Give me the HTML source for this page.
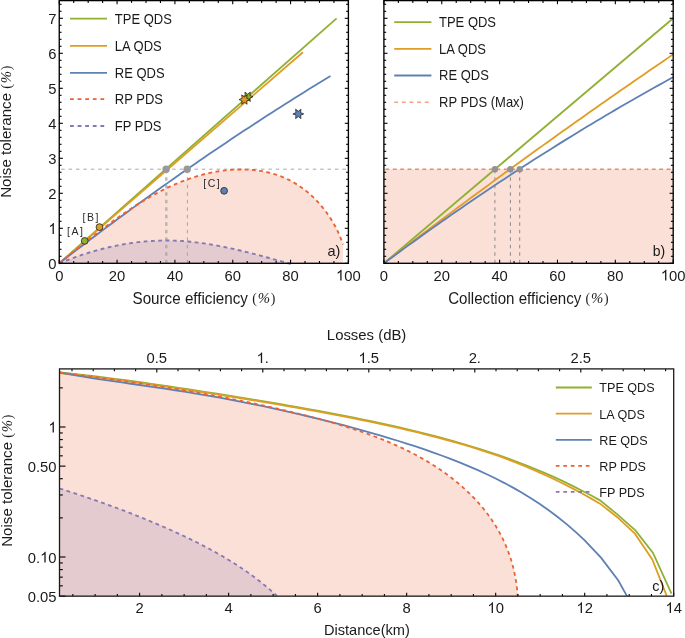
<!DOCTYPE html>
<html><head><meta charset="utf-8"><style>
html,body{margin:0;padding:0;background:#fff;}
body{width:685px;height:638px;overflow:hidden;}
svg{display:block;will-change:transform;}
</style></head><body>
<svg width="685" height="638" viewBox="0 0 685 638" font-family='"Liberation Sans", sans-serif'>
<rect width="685" height="638" fill="#fff"/>
<path d="M59.69 262.84 L61.28 261.57 L62.88 260.3 L64.48 259.02 L66.09 257.73 L67.7 256.44 L69.32 255.14 L70.95 253.83 L72.58 252.52 L74.21 251.21 L75.86 249.89 L77.5 248.57 L79.16 247.24 L80.82 245.92 L82.49 244.59 L84.16 243.26 L85.84 241.93 L87.52 240.59 L89.21 239.26 L90.91 237.92 L92.61 236.59 L94.32 235.26 L96.03 233.93 L97.75 232.6 L99.48 231.27 L101.21 229.95 L102.95 228.63 L104.69 227.31 L106.44 225.99 L108.2 224.68 L109.96 223.38 L111.73 222.08 L113.51 220.78 L115.29 219.5 L117.07 218.21 L118.87 216.94 L120.67 215.67 L122.47 214.41 L124.28 213.16 L126.1 211.92 L127.93 210.68 L129.76 209.46 L131.59 208.24 L133.44 207.04 L135.29 205.85 L137.14 204.66 L139 203.49 L140.87 202.34 L142.74 201.19 L144.63 200.06 L146.51 198.94 L148.4 197.83 L150.3 196.74 L152.21 195.67 L154.12 194.61 L156.04 193.56 L157.97 192.53 L159.9 191.52 L161.83 190.52 L163.78 189.54 L165.73 188.58 L167.68 187.64 L169.65 186.71 L171.62 185.81 L173.59 184.92 L175.58 184.06 L177.56 183.21 L179.56 182.39 L181.56 181.58 L183.57 180.8 L185.58 180.04 L187.61 179.3 L189.63 178.59 L191.67 177.9 L193.71 177.23 L195.76 176.59 L197.81 175.97 L199.87 175.38 L201.94 174.81 L204.01 174.27 L206.09 173.75 L208.18 173.27 L210.27 172.81 L212.37 172.37 L214.48 171.97 L216.59 171.59 L218.71 171.24 L220.84 170.93 L222.97 170.64 L225.11 170.38 L227.26 170.15 L229.42 169.96 L231.58 169.79 L233.74 169.66 L235.91 169.56 L238.08 169.5 L240.25 169.47 L242.43 169.47 L244.6 169.51 L246.78 169.59 L248.95 169.7 L251.12 169.85 L253.28 170.04 L255.44 170.27 L257.59 170.53 L259.74 170.84 L261.88 171.18 L264.01 171.57 L266.13 172 L268.23 172.47 L270.33 172.99 L272.41 173.55 L274.48 174.15 L276.53 174.79 L278.57 175.49 L280.59 176.23 L282.59 177.01 L284.58 177.85 L286.54 178.73 L288.48 179.66 L290.4 180.63 L292.29 181.66 L294.17 182.72 L296.02 183.84 L297.85 184.99 L299.65 186.19 L301.43 187.43 L303.19 188.7 L304.91 190.02 L306.62 191.38 L308.29 192.77 L309.94 194.2 L311.56 195.66 L313.15 197.16 L314.72 198.69 L316.25 200.25 L317.76 201.84 L319.23 203.46 L320.67 205.11 L322.09 206.79 L323.47 208.49 L324.82 210.22 L326.13 211.98 L327.42 213.75 L328.67 215.55 L329.88 217.38 L331.06 219.22 L332.21 221.08 L333.32 222.96 L334.39 224.86 L335.43 226.77 L336.43 228.7 L337.39 230.64 L338.31 232.6 L339.2 234.57 L340.04 236.55 L340.85 238.54 L341.61 240.53 L342.34 242.54 L343.02 244.55 L343.02 263.3 L59.25 263.3 Z" fill="#FBE0D7"/>
<path d="M59.25 263.55 L61.09 262.76 L62.94 261.99 L64.8 261.23 L66.66 260.48 L68.53 259.75 L70.4 259.02 L72.27 258.31 L74.15 257.61 L76.04 256.93 L77.93 256.25 L79.83 255.59 L81.73 254.95 L83.63 254.31 L85.54 253.69 L87.45 253.09 L89.36 252.49 L91.28 251.91 L93.21 251.34 L95.14 250.79 L97.07 250.25 L99 249.72 L100.94 249.21 L102.88 248.71 L104.82 248.22 L106.77 247.75 L108.72 247.29 L110.67 246.85 L112.63 246.42 L114.59 246.01 L116.55 245.61 L118.51 245.22 L120.48 244.85 L122.45 244.49 L124.42 244.15 L126.39 243.82 L128.36 243.51 L130.34 243.21 L132.32 242.93 L134.3 242.67 L136.28 242.41 L138.26 242.18 L140.24 241.96 L142.23 241.75 L144.21 241.56 L146.2 241.39 L148.19 241.23 L150.17 241.09 L152.16 240.96 L154.15 240.85 L156.14 240.76 L158.13 240.68 L160.12 240.62 L162.11 240.57 L164.1 240.54 L166.09 240.53 L168.08 240.53 L170.07 240.55 L172.06 240.59 L174.05 240.65 L176.04 240.72 L178.03 240.81 L180.01 240.91 L182 241.03 L183.99 241.17 L185.97 241.33 L187.95 241.5 L189.94 241.68 L191.92 241.88 L193.9 242.1 L195.88 242.32 L197.86 242.57 L199.84 242.82 L201.81 243.09 L203.79 243.38 L205.76 243.67 L207.74 243.98 L209.71 244.3 L211.68 244.63 L213.65 244.97 L215.62 245.33 L217.59 245.69 L219.56 246.06 L221.52 246.45 L223.49 246.84 L225.45 247.24 L227.41 247.65 L229.37 248.08 L231.33 248.5 L233.29 248.94 L235.24 249.38 L237.2 249.84 L239.15 250.29 L241.1 250.76 L243.05 251.23 L245 251.71 L246.95 252.19 L248.89 252.68 L250.83 253.17 L252.78 253.67 L254.72 254.17 L256.66 254.67 L258.59 255.18 L260.53 255.69 L262.46 256.21 L264.39 256.72 L266.32 257.24 L268.25 257.76 L270.18 258.29 L272.1 258.81 L274.03 259.34 L275.95 259.86 L277.87 260.39 L279.78 260.91 L281.7 261.44 L283.61 261.96 L285.52 262.48 L287.43 263 L289.34 263.52 L291.24 264.04 L59.25 263.3 Z" fill="#E3CBCF"/>
<line x1="59.25" y1="169.2" x2="348.4" y2="169.2" stroke="#a8a8a8" stroke-width="1" stroke-dasharray="3.5 3.9" stroke-dashoffset="-1.95"/>
<line x1="165.8" y1="263.3" x2="165.8" y2="169.2" stroke="#a4a4a4" stroke-width="1" stroke-dasharray="3.5 4"/>
<line x1="166.9" y1="263.3" x2="166.9" y2="169.2" stroke="#a4a4a4" stroke-width="1" stroke-dasharray="3.5 4"/>
<line x1="187.4" y1="263.3" x2="187.4" y2="169.2" stroke="#a4a4a4" stroke-width="1" stroke-dasharray="3.5 4"/>
<path d="M59.25 263.3 L336.6 18.3" fill="none" stroke="#8FB032" stroke-width="1.8"/>
<path d="M59.25 263.3 L302.9 52.3" fill="none" stroke="#E19C24" stroke-width="1.8"/>
<path d="M59.25 263.3 L63.77 259.8 L68.29 256.32 L72.81 252.85 L77.33 249.39 L81.85 245.94 L86.37 242.51 L90.89 239.09 L95.41 235.68 L99.93 232.28 L104.45 228.9 L108.97 225.53 L113.49 222.17 L118.01 218.83 L122.54 215.5 L127.06 212.18 L131.58 208.87 L136.1 205.58 L140.62 202.3 L145.14 199.03 L149.66 195.78 L154.18 192.53 L158.7 189.3 L163.22 186.09 L167.74 182.88 L172.26 179.69 L176.78 176.51 L181.3 173.34 L185.82 170.19 L190.34 167.05 L194.86 163.92 L199.38 160.81 L203.9 157.7 L208.42 154.61 L212.94 151.54 L217.46 148.47 L221.98 145.42 L226.5 142.38 L231.02 139.36 L235.54 136.34 L240.07 133.34 L244.59 130.35 L249.11 127.38 L253.63 124.42 L258.15 121.47 L262.67 118.53 L267.19 115.61 L271.71 112.69 L276.23 109.79 L280.75 106.91 L285.27 104.04 L289.79 101.17 L294.31 98.33 L298.83 95.49 L303.35 92.67 L307.87 89.86 L312.39 87.06 L316.91 84.28 L321.43 81.51 L325.95 78.75 L330.47 76" fill="none" stroke="#5E81B5" stroke-width="1.8"/>
<path d="M59.69 262.84 L61.28 261.57 L62.88 260.3 L64.48 259.02 L66.09 257.73 L67.7 256.44 L69.32 255.14 L70.95 253.83 L72.58 252.52 L74.21 251.21 L75.86 249.89 L77.5 248.57 L79.16 247.24 L80.82 245.92 L82.49 244.59 L84.16 243.26 L85.84 241.93 L87.52 240.59 L89.21 239.26 L90.91 237.92 L92.61 236.59 L94.32 235.26 L96.03 233.93 L97.75 232.6 L99.48 231.27 L101.21 229.95 L102.95 228.63 L104.69 227.31 L106.44 225.99 L108.2 224.68 L109.96 223.38 L111.73 222.08 L113.51 220.78 L115.29 219.5 L117.07 218.21 L118.87 216.94 L120.67 215.67 L122.47 214.41 L124.28 213.16 L126.1 211.92 L127.93 210.68 L129.76 209.46 L131.59 208.24 L133.44 207.04 L135.29 205.85 L137.14 204.66 L139 203.49 L140.87 202.34 L142.74 201.19 L144.63 200.06 L146.51 198.94 L148.4 197.83 L150.3 196.74 L152.21 195.67 L154.12 194.61 L156.04 193.56 L157.97 192.53 L159.9 191.52 L161.83 190.52 L163.78 189.54 L165.73 188.58 L167.68 187.64 L169.65 186.71 L171.62 185.81 L173.59 184.92 L175.58 184.06 L177.56 183.21 L179.56 182.39 L181.56 181.58 L183.57 180.8 L185.58 180.04 L187.61 179.3 L189.63 178.59 L191.67 177.9 L193.71 177.23 L195.76 176.59 L197.81 175.97 L199.87 175.38 L201.94 174.81 L204.01 174.27 L206.09 173.75 L208.18 173.27 L210.27 172.81 L212.37 172.37 L214.48 171.97 L216.59 171.59 L218.71 171.24 L220.84 170.93 L222.97 170.64 L225.11 170.38 L227.26 170.15 L229.42 169.96 L231.58 169.79 L233.74 169.66 L235.91 169.56 L238.08 169.5 L240.25 169.47 L242.43 169.47 L244.6 169.51 L246.78 169.59 L248.95 169.7 L251.12 169.85 L253.28 170.04 L255.44 170.27 L257.59 170.53 L259.74 170.84 L261.88 171.18 L264.01 171.57 L266.13 172 L268.23 172.47 L270.33 172.99 L272.41 173.55 L274.48 174.15 L276.53 174.79 L278.57 175.49 L280.59 176.23 L282.59 177.01 L284.58 177.85 L286.54 178.73 L288.48 179.66 L290.4 180.63 L292.29 181.66 L294.17 182.72 L296.02 183.84 L297.85 184.99 L299.65 186.19 L301.43 187.43 L303.19 188.7 L304.91 190.02 L306.62 191.38 L308.29 192.77 L309.94 194.2 L311.56 195.66 L313.15 197.16 L314.72 198.69 L316.25 200.25 L317.76 201.84 L319.23 203.46 L320.67 205.11 L322.09 206.79 L323.47 208.49 L324.82 210.22 L326.13 211.98 L327.42 213.75 L328.67 215.55 L329.88 217.38 L331.06 219.22 L332.21 221.08 L333.32 222.96 L334.39 224.86 L335.43 226.77 L336.43 228.7 L337.39 230.64 L338.31 232.6 L339.2 234.57 L340.04 236.55 L340.85 238.54 L341.61 240.53 L342.34 242.54 L343.02 244.55" fill="none" stroke="#EB6235" stroke-width="1.9" stroke-dasharray="3.8 3.5"/>
<path d="M59.25 263.55 L61.09 262.76 L62.94 261.99 L64.8 261.23 L66.66 260.48 L68.53 259.75 L70.4 259.02 L72.27 258.31 L74.15 257.61 L76.04 256.93 L77.93 256.25 L79.83 255.59 L81.73 254.95 L83.63 254.31 L85.54 253.69 L87.45 253.09 L89.36 252.49 L91.28 251.91 L93.21 251.34 L95.14 250.79 L97.07 250.25 L99 249.72 L100.94 249.21 L102.88 248.71 L104.82 248.22 L106.77 247.75 L108.72 247.29 L110.67 246.85 L112.63 246.42 L114.59 246.01 L116.55 245.61 L118.51 245.22 L120.48 244.85 L122.45 244.49 L124.42 244.15 L126.39 243.82 L128.36 243.51 L130.34 243.21 L132.32 242.93 L134.3 242.67 L136.28 242.41 L138.26 242.18 L140.24 241.96 L142.23 241.75 L144.21 241.56 L146.2 241.39 L148.19 241.23 L150.17 241.09 L152.16 240.96 L154.15 240.85 L156.14 240.76 L158.13 240.68 L160.12 240.62 L162.11 240.57 L164.1 240.54 L166.09 240.53 L168.08 240.53 L170.07 240.55 L172.06 240.59 L174.05 240.65 L176.04 240.72 L178.03 240.81 L180.01 240.91 L182 241.03 L183.99 241.17 L185.97 241.33 L187.95 241.5 L189.94 241.68 L191.92 241.88 L193.9 242.1 L195.88 242.32 L197.86 242.57 L199.84 242.82 L201.81 243.09 L203.79 243.38 L205.76 243.67 L207.74 243.98 L209.71 244.3 L211.68 244.63 L213.65 244.97 L215.62 245.33 L217.59 245.69 L219.56 246.06 L221.52 246.45 L223.49 246.84 L225.45 247.24 L227.41 247.65 L229.37 248.08 L231.33 248.5 L233.29 248.94 L235.24 249.38 L237.2 249.84 L239.15 250.29 L241.1 250.76 L243.05 251.23 L245 251.71 L246.95 252.19 L248.89 252.68 L250.83 253.17 L252.78 253.67 L254.72 254.17 L256.66 254.67 L258.59 255.18 L260.53 255.69 L262.46 256.21 L264.39 256.72 L266.32 257.24 L268.25 257.76 L270.18 258.29 L272.1 258.81 L274.03 259.34 L275.95 259.86 L277.87 260.39 L279.78 260.91 L281.7 261.44 L283.61 261.96 L285.52 262.48 L287.43 263 L289.34 263.52 L291.24 264.04" fill="none" stroke="#8778B3" stroke-width="1.9" stroke-dasharray="3.8 3.5"/>
<circle cx="166.1" cy="169.2" r="3.7" fill="#999"/>
<circle cx="187.2" cy="169.2" r="3.7" fill="#999"/>
<circle cx="84.7" cy="240.9" r="3.4" fill="#8FB032" stroke="#222" stroke-width="0.8"/>
<circle cx="99.5" cy="227.1" r="3.4" fill="#E19C24" stroke="#222" stroke-width="0.8"/>
<circle cx="224.1" cy="190.8" r="3.4" fill="#5E81B5" stroke="#222" stroke-width="0.8"/>
<path d="M253 96.8 L249.89 95.47 L250.3 92.12 L247.6 94.15 L244.9 92.12 L245.31 95.47 L242.2 96.8 L245.31 98.12 L244.9 101.48 L247.6 99.45 L250.3 101.48 L249.89 98.12 Z" fill="#8FB032" stroke="#111" stroke-width="0.7" stroke-linejoin="miter"/>
<path d="M249.8 99.6 L246.69 98.27 L247.1 94.92 L244.4 96.95 L241.7 94.92 L242.11 98.27 L239 99.6 L242.11 100.92 L241.7 104.28 L244.4 102.25 L247.1 104.28 L246.69 100.92 Z" fill="#E19C24" stroke="#111" stroke-width="0.7" stroke-linejoin="miter"/>
<path d="M303.7 113.9 L300.59 112.58 L301 109.22 L298.3 111.25 L295.6 109.22 L296.01 112.58 L292.9 113.9 L296.01 115.23 L295.6 118.58 L298.3 116.55 L301 118.58 L300.59 115.23 Z" fill="#5E81B5" stroke="#111" stroke-width="0.7" stroke-linejoin="miter"/>
<text x="66.95" y="234.7" font-size="10.5" text-anchor="start" fill="#2a2a2a" letter-spacing="1.55">[A]</text>
<text x="82.55" y="220.9" font-size="10.5" text-anchor="start" fill="#2a2a2a" letter-spacing="1.55">[B]</text>
<text x="203.25" y="186.5" font-size="10.5" text-anchor="start" fill="#2a2a2a" letter-spacing="1.55">[C]</text>
<line x1="70" y1="18.7" x2="107" y2="18.7" stroke="#8FB032" stroke-width="1.8"/>
<text transform="translate(114.8 23.7) scale(1 1.1)" font-size="13" text-anchor="start" fill="#1a1a1a">TPE QDS</text>
<line x1="70" y1="45.85" x2="107" y2="45.85" stroke="#E19C24" stroke-width="1.8"/>
<text transform="translate(114.8 50.85) scale(1 1.1)" font-size="13" text-anchor="start" fill="#1a1a1a">LA QDS</text>
<line x1="70" y1="72.9" x2="107" y2="72.9" stroke="#5E81B5" stroke-width="1.8"/>
<text transform="translate(114.8 77.9) scale(1 1.1)" font-size="13" text-anchor="start" fill="#1a1a1a">RE QDS</text>
<line x1="70" y1="99.2" x2="104.2" y2="99.2" stroke="#EB6235" stroke-width="1.8" stroke-dasharray="3.8 3.8"/>
<text transform="translate(114.8 104.2) scale(1 1.1)" font-size="13" text-anchor="start" fill="#1a1a1a">RP PDS</text>
<line x1="70" y1="126" x2="104.2" y2="126" stroke="#8778B3" stroke-width="1.8" stroke-dasharray="3.8 3.8"/>
<text transform="translate(114.8 131) scale(1 1.1)" font-size="13" text-anchor="start" fill="#1a1a1a">FP PDS</text>
<text x="333.9" y="256" font-size="14.5" text-anchor="middle" fill="#1a1a1a">a)</text>
<line x1="59.25" y1="263.3" x2="59.25" y2="259.7" stroke="#000" stroke-width="1.1"/>
<line x1="59.25" y1="0.6" x2="59.25" y2="4.2" stroke="#000" stroke-width="1.1"/>
<line x1="73.71" y1="263.3" x2="73.71" y2="261" stroke="#000" stroke-width="1.1"/>
<line x1="73.71" y1="0.6" x2="73.71" y2="2.9" stroke="#000" stroke-width="1.1"/>
<line x1="88.17" y1="263.3" x2="88.17" y2="261" stroke="#000" stroke-width="1.1"/>
<line x1="88.17" y1="0.6" x2="88.17" y2="2.9" stroke="#000" stroke-width="1.1"/>
<line x1="102.62" y1="263.3" x2="102.62" y2="261" stroke="#000" stroke-width="1.1"/>
<line x1="102.62" y1="0.6" x2="102.62" y2="2.9" stroke="#000" stroke-width="1.1"/>
<line x1="117.08" y1="263.3" x2="117.08" y2="259.7" stroke="#000" stroke-width="1.1"/>
<line x1="117.08" y1="0.6" x2="117.08" y2="4.2" stroke="#000" stroke-width="1.1"/>
<line x1="131.54" y1="263.3" x2="131.54" y2="261" stroke="#000" stroke-width="1.1"/>
<line x1="131.54" y1="0.6" x2="131.54" y2="2.9" stroke="#000" stroke-width="1.1"/>
<line x1="146" y1="263.3" x2="146" y2="261" stroke="#000" stroke-width="1.1"/>
<line x1="146" y1="0.6" x2="146" y2="2.9" stroke="#000" stroke-width="1.1"/>
<line x1="160.45" y1="263.3" x2="160.45" y2="261" stroke="#000" stroke-width="1.1"/>
<line x1="160.45" y1="0.6" x2="160.45" y2="2.9" stroke="#000" stroke-width="1.1"/>
<line x1="174.91" y1="263.3" x2="174.91" y2="259.7" stroke="#000" stroke-width="1.1"/>
<line x1="174.91" y1="0.6" x2="174.91" y2="4.2" stroke="#000" stroke-width="1.1"/>
<line x1="189.37" y1="263.3" x2="189.37" y2="261" stroke="#000" stroke-width="1.1"/>
<line x1="189.37" y1="0.6" x2="189.37" y2="2.9" stroke="#000" stroke-width="1.1"/>
<line x1="203.83" y1="263.3" x2="203.83" y2="261" stroke="#000" stroke-width="1.1"/>
<line x1="203.83" y1="0.6" x2="203.83" y2="2.9" stroke="#000" stroke-width="1.1"/>
<line x1="218.28" y1="263.3" x2="218.28" y2="261" stroke="#000" stroke-width="1.1"/>
<line x1="218.28" y1="0.6" x2="218.28" y2="2.9" stroke="#000" stroke-width="1.1"/>
<line x1="232.74" y1="263.3" x2="232.74" y2="259.7" stroke="#000" stroke-width="1.1"/>
<line x1="232.74" y1="0.6" x2="232.74" y2="4.2" stroke="#000" stroke-width="1.1"/>
<line x1="247.2" y1="263.3" x2="247.2" y2="261" stroke="#000" stroke-width="1.1"/>
<line x1="247.2" y1="0.6" x2="247.2" y2="2.9" stroke="#000" stroke-width="1.1"/>
<line x1="261.65" y1="263.3" x2="261.65" y2="261" stroke="#000" stroke-width="1.1"/>
<line x1="261.65" y1="0.6" x2="261.65" y2="2.9" stroke="#000" stroke-width="1.1"/>
<line x1="276.11" y1="263.3" x2="276.11" y2="261" stroke="#000" stroke-width="1.1"/>
<line x1="276.11" y1="0.6" x2="276.11" y2="2.9" stroke="#000" stroke-width="1.1"/>
<line x1="290.57" y1="263.3" x2="290.57" y2="259.7" stroke="#000" stroke-width="1.1"/>
<line x1="290.57" y1="0.6" x2="290.57" y2="4.2" stroke="#000" stroke-width="1.1"/>
<line x1="305.03" y1="263.3" x2="305.03" y2="261" stroke="#000" stroke-width="1.1"/>
<line x1="305.03" y1="0.6" x2="305.03" y2="2.9" stroke="#000" stroke-width="1.1"/>
<line x1="319.49" y1="263.3" x2="319.49" y2="261" stroke="#000" stroke-width="1.1"/>
<line x1="319.49" y1="0.6" x2="319.49" y2="2.9" stroke="#000" stroke-width="1.1"/>
<line x1="333.94" y1="263.3" x2="333.94" y2="261" stroke="#000" stroke-width="1.1"/>
<line x1="333.94" y1="0.6" x2="333.94" y2="2.9" stroke="#000" stroke-width="1.1"/>
<line x1="348.4" y1="263.3" x2="348.4" y2="259.7" stroke="#000" stroke-width="1.1"/>
<line x1="348.4" y1="0.6" x2="348.4" y2="4.2" stroke="#000" stroke-width="1.1"/>
<line x1="59.25" y1="263.3" x2="62.85" y2="263.3" stroke="#000" stroke-width="1.1"/>
<line x1="348.4" y1="263.3" x2="344.8" y2="263.3" stroke="#000" stroke-width="1.1"/>
<line x1="59.25" y1="256.3" x2="61.55" y2="256.3" stroke="#000" stroke-width="1.1"/>
<line x1="348.4" y1="256.3" x2="346.1" y2="256.3" stroke="#000" stroke-width="1.1"/>
<line x1="59.25" y1="249.3" x2="61.55" y2="249.3" stroke="#000" stroke-width="1.1"/>
<line x1="348.4" y1="249.3" x2="346.1" y2="249.3" stroke="#000" stroke-width="1.1"/>
<line x1="59.25" y1="242.3" x2="61.55" y2="242.3" stroke="#000" stroke-width="1.1"/>
<line x1="348.4" y1="242.3" x2="346.1" y2="242.3" stroke="#000" stroke-width="1.1"/>
<line x1="59.25" y1="235.3" x2="61.55" y2="235.3" stroke="#000" stroke-width="1.1"/>
<line x1="348.4" y1="235.3" x2="346.1" y2="235.3" stroke="#000" stroke-width="1.1"/>
<line x1="59.25" y1="228.3" x2="62.85" y2="228.3" stroke="#000" stroke-width="1.1"/>
<line x1="348.4" y1="228.3" x2="344.8" y2="228.3" stroke="#000" stroke-width="1.1"/>
<line x1="59.25" y1="221.3" x2="61.55" y2="221.3" stroke="#000" stroke-width="1.1"/>
<line x1="348.4" y1="221.3" x2="346.1" y2="221.3" stroke="#000" stroke-width="1.1"/>
<line x1="59.25" y1="214.3" x2="61.55" y2="214.3" stroke="#000" stroke-width="1.1"/>
<line x1="348.4" y1="214.3" x2="346.1" y2="214.3" stroke="#000" stroke-width="1.1"/>
<line x1="59.25" y1="207.3" x2="61.55" y2="207.3" stroke="#000" stroke-width="1.1"/>
<line x1="348.4" y1="207.3" x2="346.1" y2="207.3" stroke="#000" stroke-width="1.1"/>
<line x1="59.25" y1="200.3" x2="61.55" y2="200.3" stroke="#000" stroke-width="1.1"/>
<line x1="348.4" y1="200.3" x2="346.1" y2="200.3" stroke="#000" stroke-width="1.1"/>
<line x1="59.25" y1="193.3" x2="62.85" y2="193.3" stroke="#000" stroke-width="1.1"/>
<line x1="348.4" y1="193.3" x2="344.8" y2="193.3" stroke="#000" stroke-width="1.1"/>
<line x1="59.25" y1="186.3" x2="61.55" y2="186.3" stroke="#000" stroke-width="1.1"/>
<line x1="348.4" y1="186.3" x2="346.1" y2="186.3" stroke="#000" stroke-width="1.1"/>
<line x1="59.25" y1="179.3" x2="61.55" y2="179.3" stroke="#000" stroke-width="1.1"/>
<line x1="348.4" y1="179.3" x2="346.1" y2="179.3" stroke="#000" stroke-width="1.1"/>
<line x1="59.25" y1="172.3" x2="61.55" y2="172.3" stroke="#000" stroke-width="1.1"/>
<line x1="348.4" y1="172.3" x2="346.1" y2="172.3" stroke="#000" stroke-width="1.1"/>
<line x1="59.25" y1="165.3" x2="61.55" y2="165.3" stroke="#000" stroke-width="1.1"/>
<line x1="348.4" y1="165.3" x2="346.1" y2="165.3" stroke="#000" stroke-width="1.1"/>
<line x1="59.25" y1="158.3" x2="62.85" y2="158.3" stroke="#000" stroke-width="1.1"/>
<line x1="348.4" y1="158.3" x2="344.8" y2="158.3" stroke="#000" stroke-width="1.1"/>
<line x1="59.25" y1="151.3" x2="61.55" y2="151.3" stroke="#000" stroke-width="1.1"/>
<line x1="348.4" y1="151.3" x2="346.1" y2="151.3" stroke="#000" stroke-width="1.1"/>
<line x1="59.25" y1="144.3" x2="61.55" y2="144.3" stroke="#000" stroke-width="1.1"/>
<line x1="348.4" y1="144.3" x2="346.1" y2="144.3" stroke="#000" stroke-width="1.1"/>
<line x1="59.25" y1="137.3" x2="61.55" y2="137.3" stroke="#000" stroke-width="1.1"/>
<line x1="348.4" y1="137.3" x2="346.1" y2="137.3" stroke="#000" stroke-width="1.1"/>
<line x1="59.25" y1="130.3" x2="61.55" y2="130.3" stroke="#000" stroke-width="1.1"/>
<line x1="348.4" y1="130.3" x2="346.1" y2="130.3" stroke="#000" stroke-width="1.1"/>
<line x1="59.25" y1="123.3" x2="62.85" y2="123.3" stroke="#000" stroke-width="1.1"/>
<line x1="348.4" y1="123.3" x2="344.8" y2="123.3" stroke="#000" stroke-width="1.1"/>
<line x1="59.25" y1="116.3" x2="61.55" y2="116.3" stroke="#000" stroke-width="1.1"/>
<line x1="348.4" y1="116.3" x2="346.1" y2="116.3" stroke="#000" stroke-width="1.1"/>
<line x1="59.25" y1="109.3" x2="61.55" y2="109.3" stroke="#000" stroke-width="1.1"/>
<line x1="348.4" y1="109.3" x2="346.1" y2="109.3" stroke="#000" stroke-width="1.1"/>
<line x1="59.25" y1="102.3" x2="61.55" y2="102.3" stroke="#000" stroke-width="1.1"/>
<line x1="348.4" y1="102.3" x2="346.1" y2="102.3" stroke="#000" stroke-width="1.1"/>
<line x1="59.25" y1="95.3" x2="61.55" y2="95.3" stroke="#000" stroke-width="1.1"/>
<line x1="348.4" y1="95.3" x2="346.1" y2="95.3" stroke="#000" stroke-width="1.1"/>
<line x1="59.25" y1="88.3" x2="62.85" y2="88.3" stroke="#000" stroke-width="1.1"/>
<line x1="348.4" y1="88.3" x2="344.8" y2="88.3" stroke="#000" stroke-width="1.1"/>
<line x1="59.25" y1="81.3" x2="61.55" y2="81.3" stroke="#000" stroke-width="1.1"/>
<line x1="348.4" y1="81.3" x2="346.1" y2="81.3" stroke="#000" stroke-width="1.1"/>
<line x1="59.25" y1="74.3" x2="61.55" y2="74.3" stroke="#000" stroke-width="1.1"/>
<line x1="348.4" y1="74.3" x2="346.1" y2="74.3" stroke="#000" stroke-width="1.1"/>
<line x1="59.25" y1="67.3" x2="61.55" y2="67.3" stroke="#000" stroke-width="1.1"/>
<line x1="348.4" y1="67.3" x2="346.1" y2="67.3" stroke="#000" stroke-width="1.1"/>
<line x1="59.25" y1="60.3" x2="61.55" y2="60.3" stroke="#000" stroke-width="1.1"/>
<line x1="348.4" y1="60.3" x2="346.1" y2="60.3" stroke="#000" stroke-width="1.1"/>
<line x1="59.25" y1="53.3" x2="62.85" y2="53.3" stroke="#000" stroke-width="1.1"/>
<line x1="348.4" y1="53.3" x2="344.8" y2="53.3" stroke="#000" stroke-width="1.1"/>
<line x1="59.25" y1="46.3" x2="61.55" y2="46.3" stroke="#000" stroke-width="1.1"/>
<line x1="348.4" y1="46.3" x2="346.1" y2="46.3" stroke="#000" stroke-width="1.1"/>
<line x1="59.25" y1="39.3" x2="61.55" y2="39.3" stroke="#000" stroke-width="1.1"/>
<line x1="348.4" y1="39.3" x2="346.1" y2="39.3" stroke="#000" stroke-width="1.1"/>
<line x1="59.25" y1="32.3" x2="61.55" y2="32.3" stroke="#000" stroke-width="1.1"/>
<line x1="348.4" y1="32.3" x2="346.1" y2="32.3" stroke="#000" stroke-width="1.1"/>
<line x1="59.25" y1="25.3" x2="61.55" y2="25.3" stroke="#000" stroke-width="1.1"/>
<line x1="348.4" y1="25.3" x2="346.1" y2="25.3" stroke="#000" stroke-width="1.1"/>
<line x1="59.25" y1="18.3" x2="62.85" y2="18.3" stroke="#000" stroke-width="1.1"/>
<line x1="348.4" y1="18.3" x2="344.8" y2="18.3" stroke="#000" stroke-width="1.1"/>
<line x1="59.25" y1="11.3" x2="61.55" y2="11.3" stroke="#000" stroke-width="1.1"/>
<line x1="348.4" y1="11.3" x2="346.1" y2="11.3" stroke="#000" stroke-width="1.1"/>
<line x1="59.25" y1="4.3" x2="61.55" y2="4.3" stroke="#000" stroke-width="1.1"/>
<line x1="348.4" y1="4.3" x2="346.1" y2="4.3" stroke="#000" stroke-width="1.1"/>
<rect x="59.25" y="0.6" width="289.15" height="262.7" fill="none" stroke="#000" stroke-width="1.35"/>
<text transform="translate(55.13 280.5) scale(1 1.02)" font-size="14.8" text-anchor="start" fill="#1a1a1a">0</text>
<text transform="translate(108.85 280.5) scale(1 1.02)" font-size="14.8" text-anchor="start" fill="#1a1a1a">20</text>
<text transform="translate(166.68 280.5) scale(1 1.02)" font-size="14.8" text-anchor="start" fill="#1a1a1a">40</text>
<text transform="translate(224.51 280.5) scale(1 1.02)" font-size="14.8" text-anchor="start" fill="#1a1a1a">60</text>
<text transform="translate(282.34 280.5) scale(1 1.02)" font-size="14.8" text-anchor="start" fill="#1a1a1a">80</text>
<text transform="translate(336.05 280.5) scale(1 1.02)" font-size="14.8" text-anchor="start" fill="#1a1a1a"> 00</text>
<path transform="translate(336.05 280.5) scale(0.007227 -0.007371)" d="M763 0 L583 0 L583 1147 Q518 1085 412 1023 Q307 961 223 930 L223 1104 Q374 1175 487 1276 Q600 1377 647 1472 L763 1472 Z" fill="#1a1a1a"/>
<text transform="translate(48.37 268.9) scale(1 1.02)" font-size="14.8" text-anchor="start" fill="#1a1a1a">0</text>
<path transform="translate(48.37 233.9) scale(0.007227 -0.007371)" d="M763 0 L583 0 L583 1147 Q518 1085 412 1023 Q307 961 223 930 L223 1104 Q374 1175 487 1276 Q600 1377 647 1472 L763 1472 Z" fill="#1a1a1a"/>
<text transform="translate(48.37 198.9) scale(1 1.02)" font-size="14.8" text-anchor="start" fill="#1a1a1a">2</text>
<text transform="translate(48.37 163.9) scale(1 1.02)" font-size="14.8" text-anchor="start" fill="#1a1a1a">3</text>
<text transform="translate(48.37 128.9) scale(1 1.02)" font-size="14.8" text-anchor="start" fill="#1a1a1a">4</text>
<text transform="translate(48.37 93.9) scale(1 1.02)" font-size="14.8" text-anchor="start" fill="#1a1a1a">5</text>
<text transform="translate(48.37 58.9) scale(1 1.02)" font-size="14.8" text-anchor="start" fill="#1a1a1a">6</text>
<text transform="translate(48.37 23.9) scale(1 1.02)" font-size="14.8" text-anchor="start" fill="#1a1a1a">7</text>
<text transform="translate(203.9 303.8) scale(1 1.05)" font-size="15.2" text-anchor="middle" fill="#1a1a1a">Source efficiency <tspan font-family="Liberation Serif, serif" font-size="13.8" dy="-1.2">(</tspan><tspan font-family="Liberation Serif, serif" font-style="italic" font-size="14.8" dx="0.9">%</tspan><tspan font-family="Liberation Serif, serif" font-size="13.8" dx="0.7">)</tspan></text>
<text transform="translate(11.4 131.7) rotate(-90)" font-size="15.1" text-anchor="middle" fill="#1a1a1a">Noise tolerance <tspan font-family="Liberation Serif, serif" font-size="13.8">(</tspan><tspan font-family="Liberation Serif, serif" font-style="italic" font-size="14.8" dx="0.9">%</tspan><tspan font-family="Liberation Serif, serif" font-size="13.8" dx="0.7">)</tspan></text>
<rect x="383.9" y="169.2" width="289.3" height="94.1" fill="#FBE0D7"/>
<line x1="494.9" y1="263.3" x2="494.9" y2="169.2" stroke="#8a8a8a" stroke-width="1" stroke-dasharray="3.5 4"/>
<line x1="510.4" y1="263.3" x2="510.4" y2="169.2" stroke="#8a8a8a" stroke-width="1" stroke-dasharray="3.5 4"/>
<line x1="519.7" y1="263.3" x2="519.7" y2="169.2" stroke="#8a8a8a" stroke-width="1" stroke-dasharray="3.5 4"/>
<line x1="383.9" y1="169.2" x2="673.2" y2="169.2" stroke="#EE8A68" stroke-width="1.35" stroke-dasharray="3.9 3.5" stroke-dashoffset="-1.5"/>
<path d="M383.9 263.3 L528.55 140.8 L673.2 18.3" fill="none" stroke="#8FB032" stroke-width="1.8"/>
<path d="M383.9 263.3 L388.72 259.62 L393.54 255.94 L398.36 252.28 L403.19 248.62 L408.01 244.96 L412.83 241.32 L417.65 237.67 L422.47 234.04 L427.29 230.41 L432.12 226.79 L436.94 223.18 L441.76 219.57 L446.58 215.97 L451.4 212.38 L456.22 208.79 L461.05 205.21 L465.87 201.64 L470.69 198.07 L475.51 194.51 L480.33 190.96 L485.15 187.41 L489.98 183.87 L494.8 180.34 L499.62 176.81 L504.44 173.29 L509.26 169.78 L514.09 166.28 L518.91 162.78 L523.73 159.28 L528.55 155.8 L533.37 152.32 L538.19 148.85 L543.01 145.38 L547.84 141.92 L552.66 138.47 L557.48 135.02 L562.3 131.58 L567.12 128.15 L571.94 124.73 L576.77 121.31 L581.59 117.9 L586.41 114.49 L591.23 111.09 L596.05 107.7 L600.88 104.32 L605.7 100.94 L610.52 97.57 L615.34 94.2 L620.16 90.84 L624.98 87.49 L629.8 84.15 L634.63 80.81 L639.45 77.48 L644.27 74.16 L649.09 70.84 L653.91 67.53 L658.73 64.22 L663.56 60.92 L668.38 57.63 L673.2 54.35" fill="none" stroke="#E19C24" stroke-width="1.8"/>
<path d="M383.9 263.3 L388.72 259.74 L393.54 256.19 L398.36 252.66 L403.19 249.14 L408.01 245.64 L412.83 242.16 L417.65 238.69 L422.47 235.24 L427.29 231.8 L432.12 228.38 L436.94 224.97 L441.76 221.58 L446.58 218.21 L451.4 214.85 L456.22 211.5 L461.05 208.17 L465.87 204.86 L470.69 201.56 L475.51 198.28 L480.33 195.02 L485.15 191.76 L489.98 188.53 L494.8 185.31 L499.62 182.11 L504.44 178.92 L509.26 175.74 L514.09 172.59 L518.91 169.45 L523.73 166.32 L528.55 163.21 L533.37 160.11 L538.19 157.03 L543.01 153.97 L547.84 150.92 L552.66 147.89 L557.48 144.87 L562.3 141.87 L567.12 138.89 L571.94 135.91 L576.77 132.96 L581.59 130.02 L586.41 127.1 L591.23 124.19 L596.05 121.3 L600.88 118.42 L605.7 115.56 L610.52 112.71 L615.34 109.88 L620.16 107.07 L624.98 104.27 L629.8 101.49 L634.63 98.72 L639.45 95.97 L644.27 93.23 L649.09 90.51 L653.91 87.8 L658.73 85.11 L663.56 82.44 L668.38 79.78 L673.2 77.14" fill="none" stroke="#5E81B5" stroke-width="1.8"/>
<circle cx="494.9" cy="169.2" r="3.2" fill="#939393"/>
<circle cx="510.4" cy="169.2" r="3.2" fill="#939393"/>
<circle cx="519.7" cy="169.2" r="3.2" fill="#939393"/>
<line x1="394.2" y1="22.1" x2="431.4" y2="22.1" stroke="#8FB032" stroke-width="1.8"/>
<text transform="translate(439 27) scale(1 1.1)" font-size="13" text-anchor="start" fill="#1a1a1a">TPE QDS</text>
<line x1="394.2" y1="48.8" x2="431.4" y2="48.8" stroke="#E19C24" stroke-width="1.8"/>
<text transform="translate(439 53.7) scale(1 1.1)" font-size="13" text-anchor="start" fill="#1a1a1a">LA QDS</text>
<line x1="394.2" y1="75.5" x2="431.4" y2="75.5" stroke="#5E81B5" stroke-width="1.8"/>
<text transform="translate(439 80.4) scale(1 1.1)" font-size="13" text-anchor="start" fill="#1a1a1a">RE QDS</text>
<line x1="394.2" y1="102.3" x2="428.6" y2="102.3" stroke="#F2A48A" stroke-width="1.6" stroke-dasharray="3.8 3.85"/>
<text transform="translate(439 107.2) scale(1 1.1)" font-size="13" text-anchor="start" fill="#1a1a1a">RP PDS (Max)</text>
<text x="659" y="255.7" font-size="14" text-anchor="middle" fill="#1a1a1a">b)</text>
<line x1="383.9" y1="263.3" x2="383.9" y2="259.7" stroke="#000" stroke-width="1.1"/>
<line x1="383.9" y1="0.6" x2="383.9" y2="4.2" stroke="#000" stroke-width="1.1"/>
<line x1="398.36" y1="263.3" x2="398.36" y2="261" stroke="#000" stroke-width="1.1"/>
<line x1="398.36" y1="0.6" x2="398.36" y2="2.9" stroke="#000" stroke-width="1.1"/>
<line x1="412.83" y1="263.3" x2="412.83" y2="261" stroke="#000" stroke-width="1.1"/>
<line x1="412.83" y1="0.6" x2="412.83" y2="2.9" stroke="#000" stroke-width="1.1"/>
<line x1="427.29" y1="263.3" x2="427.29" y2="261" stroke="#000" stroke-width="1.1"/>
<line x1="427.29" y1="0.6" x2="427.29" y2="2.9" stroke="#000" stroke-width="1.1"/>
<line x1="441.76" y1="263.3" x2="441.76" y2="259.7" stroke="#000" stroke-width="1.1"/>
<line x1="441.76" y1="0.6" x2="441.76" y2="4.2" stroke="#000" stroke-width="1.1"/>
<line x1="456.22" y1="263.3" x2="456.22" y2="261" stroke="#000" stroke-width="1.1"/>
<line x1="456.22" y1="0.6" x2="456.22" y2="2.9" stroke="#000" stroke-width="1.1"/>
<line x1="470.69" y1="263.3" x2="470.69" y2="261" stroke="#000" stroke-width="1.1"/>
<line x1="470.69" y1="0.6" x2="470.69" y2="2.9" stroke="#000" stroke-width="1.1"/>
<line x1="485.15" y1="263.3" x2="485.15" y2="261" stroke="#000" stroke-width="1.1"/>
<line x1="485.15" y1="0.6" x2="485.15" y2="2.9" stroke="#000" stroke-width="1.1"/>
<line x1="499.62" y1="263.3" x2="499.62" y2="259.7" stroke="#000" stroke-width="1.1"/>
<line x1="499.62" y1="0.6" x2="499.62" y2="4.2" stroke="#000" stroke-width="1.1"/>
<line x1="514.09" y1="263.3" x2="514.09" y2="261" stroke="#000" stroke-width="1.1"/>
<line x1="514.09" y1="0.6" x2="514.09" y2="2.9" stroke="#000" stroke-width="1.1"/>
<line x1="528.55" y1="263.3" x2="528.55" y2="261" stroke="#000" stroke-width="1.1"/>
<line x1="528.55" y1="0.6" x2="528.55" y2="2.9" stroke="#000" stroke-width="1.1"/>
<line x1="543.01" y1="263.3" x2="543.01" y2="261" stroke="#000" stroke-width="1.1"/>
<line x1="543.01" y1="0.6" x2="543.01" y2="2.9" stroke="#000" stroke-width="1.1"/>
<line x1="557.48" y1="263.3" x2="557.48" y2="259.7" stroke="#000" stroke-width="1.1"/>
<line x1="557.48" y1="0.6" x2="557.48" y2="4.2" stroke="#000" stroke-width="1.1"/>
<line x1="571.94" y1="263.3" x2="571.94" y2="261" stroke="#000" stroke-width="1.1"/>
<line x1="571.94" y1="0.6" x2="571.94" y2="2.9" stroke="#000" stroke-width="1.1"/>
<line x1="586.41" y1="263.3" x2="586.41" y2="261" stroke="#000" stroke-width="1.1"/>
<line x1="586.41" y1="0.6" x2="586.41" y2="2.9" stroke="#000" stroke-width="1.1"/>
<line x1="600.88" y1="263.3" x2="600.88" y2="261" stroke="#000" stroke-width="1.1"/>
<line x1="600.88" y1="0.6" x2="600.88" y2="2.9" stroke="#000" stroke-width="1.1"/>
<line x1="615.34" y1="263.3" x2="615.34" y2="259.7" stroke="#000" stroke-width="1.1"/>
<line x1="615.34" y1="0.6" x2="615.34" y2="4.2" stroke="#000" stroke-width="1.1"/>
<line x1="629.8" y1="263.3" x2="629.8" y2="261" stroke="#000" stroke-width="1.1"/>
<line x1="629.8" y1="0.6" x2="629.8" y2="2.9" stroke="#000" stroke-width="1.1"/>
<line x1="644.27" y1="263.3" x2="644.27" y2="261" stroke="#000" stroke-width="1.1"/>
<line x1="644.27" y1="0.6" x2="644.27" y2="2.9" stroke="#000" stroke-width="1.1"/>
<line x1="658.73" y1="263.3" x2="658.73" y2="261" stroke="#000" stroke-width="1.1"/>
<line x1="658.73" y1="0.6" x2="658.73" y2="2.9" stroke="#000" stroke-width="1.1"/>
<line x1="673.2" y1="263.3" x2="673.2" y2="259.7" stroke="#000" stroke-width="1.1"/>
<line x1="673.2" y1="0.6" x2="673.2" y2="4.2" stroke="#000" stroke-width="1.1"/>
<line x1="383.9" y1="263.3" x2="387.5" y2="263.3" stroke="#000" stroke-width="1.1"/>
<line x1="673.2" y1="263.3" x2="669.6" y2="263.3" stroke="#000" stroke-width="1.1"/>
<line x1="383.9" y1="256.3" x2="386.2" y2="256.3" stroke="#000" stroke-width="1.1"/>
<line x1="673.2" y1="256.3" x2="670.9" y2="256.3" stroke="#000" stroke-width="1.1"/>
<line x1="383.9" y1="249.3" x2="386.2" y2="249.3" stroke="#000" stroke-width="1.1"/>
<line x1="673.2" y1="249.3" x2="670.9" y2="249.3" stroke="#000" stroke-width="1.1"/>
<line x1="383.9" y1="242.3" x2="386.2" y2="242.3" stroke="#000" stroke-width="1.1"/>
<line x1="673.2" y1="242.3" x2="670.9" y2="242.3" stroke="#000" stroke-width="1.1"/>
<line x1="383.9" y1="235.3" x2="386.2" y2="235.3" stroke="#000" stroke-width="1.1"/>
<line x1="673.2" y1="235.3" x2="670.9" y2="235.3" stroke="#000" stroke-width="1.1"/>
<line x1="383.9" y1="228.3" x2="387.5" y2="228.3" stroke="#000" stroke-width="1.1"/>
<line x1="673.2" y1="228.3" x2="669.6" y2="228.3" stroke="#000" stroke-width="1.1"/>
<line x1="383.9" y1="221.3" x2="386.2" y2="221.3" stroke="#000" stroke-width="1.1"/>
<line x1="673.2" y1="221.3" x2="670.9" y2="221.3" stroke="#000" stroke-width="1.1"/>
<line x1="383.9" y1="214.3" x2="386.2" y2="214.3" stroke="#000" stroke-width="1.1"/>
<line x1="673.2" y1="214.3" x2="670.9" y2="214.3" stroke="#000" stroke-width="1.1"/>
<line x1="383.9" y1="207.3" x2="386.2" y2="207.3" stroke="#000" stroke-width="1.1"/>
<line x1="673.2" y1="207.3" x2="670.9" y2="207.3" stroke="#000" stroke-width="1.1"/>
<line x1="383.9" y1="200.3" x2="386.2" y2="200.3" stroke="#000" stroke-width="1.1"/>
<line x1="673.2" y1="200.3" x2="670.9" y2="200.3" stroke="#000" stroke-width="1.1"/>
<line x1="383.9" y1="193.3" x2="387.5" y2="193.3" stroke="#000" stroke-width="1.1"/>
<line x1="673.2" y1="193.3" x2="669.6" y2="193.3" stroke="#000" stroke-width="1.1"/>
<line x1="383.9" y1="186.3" x2="386.2" y2="186.3" stroke="#000" stroke-width="1.1"/>
<line x1="673.2" y1="186.3" x2="670.9" y2="186.3" stroke="#000" stroke-width="1.1"/>
<line x1="383.9" y1="179.3" x2="386.2" y2="179.3" stroke="#000" stroke-width="1.1"/>
<line x1="673.2" y1="179.3" x2="670.9" y2="179.3" stroke="#000" stroke-width="1.1"/>
<line x1="383.9" y1="172.3" x2="386.2" y2="172.3" stroke="#000" stroke-width="1.1"/>
<line x1="673.2" y1="172.3" x2="670.9" y2="172.3" stroke="#000" stroke-width="1.1"/>
<line x1="383.9" y1="165.3" x2="386.2" y2="165.3" stroke="#000" stroke-width="1.1"/>
<line x1="673.2" y1="165.3" x2="670.9" y2="165.3" stroke="#000" stroke-width="1.1"/>
<line x1="383.9" y1="158.3" x2="387.5" y2="158.3" stroke="#000" stroke-width="1.1"/>
<line x1="673.2" y1="158.3" x2="669.6" y2="158.3" stroke="#000" stroke-width="1.1"/>
<line x1="383.9" y1="151.3" x2="386.2" y2="151.3" stroke="#000" stroke-width="1.1"/>
<line x1="673.2" y1="151.3" x2="670.9" y2="151.3" stroke="#000" stroke-width="1.1"/>
<line x1="383.9" y1="144.3" x2="386.2" y2="144.3" stroke="#000" stroke-width="1.1"/>
<line x1="673.2" y1="144.3" x2="670.9" y2="144.3" stroke="#000" stroke-width="1.1"/>
<line x1="383.9" y1="137.3" x2="386.2" y2="137.3" stroke="#000" stroke-width="1.1"/>
<line x1="673.2" y1="137.3" x2="670.9" y2="137.3" stroke="#000" stroke-width="1.1"/>
<line x1="383.9" y1="130.3" x2="386.2" y2="130.3" stroke="#000" stroke-width="1.1"/>
<line x1="673.2" y1="130.3" x2="670.9" y2="130.3" stroke="#000" stroke-width="1.1"/>
<line x1="383.9" y1="123.3" x2="387.5" y2="123.3" stroke="#000" stroke-width="1.1"/>
<line x1="673.2" y1="123.3" x2="669.6" y2="123.3" stroke="#000" stroke-width="1.1"/>
<line x1="383.9" y1="116.3" x2="386.2" y2="116.3" stroke="#000" stroke-width="1.1"/>
<line x1="673.2" y1="116.3" x2="670.9" y2="116.3" stroke="#000" stroke-width="1.1"/>
<line x1="383.9" y1="109.3" x2="386.2" y2="109.3" stroke="#000" stroke-width="1.1"/>
<line x1="673.2" y1="109.3" x2="670.9" y2="109.3" stroke="#000" stroke-width="1.1"/>
<line x1="383.9" y1="102.3" x2="386.2" y2="102.3" stroke="#000" stroke-width="1.1"/>
<line x1="673.2" y1="102.3" x2="670.9" y2="102.3" stroke="#000" stroke-width="1.1"/>
<line x1="383.9" y1="95.3" x2="386.2" y2="95.3" stroke="#000" stroke-width="1.1"/>
<line x1="673.2" y1="95.3" x2="670.9" y2="95.3" stroke="#000" stroke-width="1.1"/>
<line x1="383.9" y1="88.3" x2="387.5" y2="88.3" stroke="#000" stroke-width="1.1"/>
<line x1="673.2" y1="88.3" x2="669.6" y2="88.3" stroke="#000" stroke-width="1.1"/>
<line x1="383.9" y1="81.3" x2="386.2" y2="81.3" stroke="#000" stroke-width="1.1"/>
<line x1="673.2" y1="81.3" x2="670.9" y2="81.3" stroke="#000" stroke-width="1.1"/>
<line x1="383.9" y1="74.3" x2="386.2" y2="74.3" stroke="#000" stroke-width="1.1"/>
<line x1="673.2" y1="74.3" x2="670.9" y2="74.3" stroke="#000" stroke-width="1.1"/>
<line x1="383.9" y1="67.3" x2="386.2" y2="67.3" stroke="#000" stroke-width="1.1"/>
<line x1="673.2" y1="67.3" x2="670.9" y2="67.3" stroke="#000" stroke-width="1.1"/>
<line x1="383.9" y1="60.3" x2="386.2" y2="60.3" stroke="#000" stroke-width="1.1"/>
<line x1="673.2" y1="60.3" x2="670.9" y2="60.3" stroke="#000" stroke-width="1.1"/>
<line x1="383.9" y1="53.3" x2="387.5" y2="53.3" stroke="#000" stroke-width="1.1"/>
<line x1="673.2" y1="53.3" x2="669.6" y2="53.3" stroke="#000" stroke-width="1.1"/>
<line x1="383.9" y1="46.3" x2="386.2" y2="46.3" stroke="#000" stroke-width="1.1"/>
<line x1="673.2" y1="46.3" x2="670.9" y2="46.3" stroke="#000" stroke-width="1.1"/>
<line x1="383.9" y1="39.3" x2="386.2" y2="39.3" stroke="#000" stroke-width="1.1"/>
<line x1="673.2" y1="39.3" x2="670.9" y2="39.3" stroke="#000" stroke-width="1.1"/>
<line x1="383.9" y1="32.3" x2="386.2" y2="32.3" stroke="#000" stroke-width="1.1"/>
<line x1="673.2" y1="32.3" x2="670.9" y2="32.3" stroke="#000" stroke-width="1.1"/>
<line x1="383.9" y1="25.3" x2="386.2" y2="25.3" stroke="#000" stroke-width="1.1"/>
<line x1="673.2" y1="25.3" x2="670.9" y2="25.3" stroke="#000" stroke-width="1.1"/>
<line x1="383.9" y1="18.3" x2="387.5" y2="18.3" stroke="#000" stroke-width="1.1"/>
<line x1="673.2" y1="18.3" x2="669.6" y2="18.3" stroke="#000" stroke-width="1.1"/>
<line x1="383.9" y1="11.3" x2="386.2" y2="11.3" stroke="#000" stroke-width="1.1"/>
<line x1="673.2" y1="11.3" x2="670.9" y2="11.3" stroke="#000" stroke-width="1.1"/>
<line x1="383.9" y1="4.3" x2="386.2" y2="4.3" stroke="#000" stroke-width="1.1"/>
<line x1="673.2" y1="4.3" x2="670.9" y2="4.3" stroke="#000" stroke-width="1.1"/>
<rect x="383.9" y="0.6" width="289.3" height="262.7" fill="none" stroke="#000" stroke-width="1.35"/>
<text transform="translate(379.78 280.5) scale(1 1.02)" font-size="14.8" text-anchor="start" fill="#1a1a1a">0</text>
<text transform="translate(433.53 280.5) scale(1 1.02)" font-size="14.8" text-anchor="start" fill="#1a1a1a">20</text>
<text transform="translate(491.39 280.5) scale(1 1.02)" font-size="14.8" text-anchor="start" fill="#1a1a1a">40</text>
<text transform="translate(549.25 280.5) scale(1 1.02)" font-size="14.8" text-anchor="start" fill="#1a1a1a">60</text>
<text transform="translate(607.11 280.5) scale(1 1.02)" font-size="14.8" text-anchor="start" fill="#1a1a1a">80</text>
<text transform="translate(660.85 280.5) scale(1 1.02)" font-size="14.8" text-anchor="start" fill="#1a1a1a"> 00</text>
<path transform="translate(660.85 280.5) scale(0.007227 -0.007371)" d="M763 0 L583 0 L583 1147 Q518 1085 412 1023 Q307 961 223 930 L223 1104 Q374 1175 487 1276 Q600 1377 647 1472 L763 1472 Z" fill="#1a1a1a"/>
<text transform="translate(528.4 303.8) scale(1 1.05)" font-size="15.1" text-anchor="middle" fill="#1a1a1a">Collection efficiency <tspan font-family="Liberation Serif, serif" font-size="13.8" dy="-1.2">(</tspan><tspan font-family="Liberation Serif, serif" font-style="italic" font-size="14.8" dx="0.9">%</tspan><tspan font-family="Liberation Serif, serif" font-size="13.8" dx="0.7">)</tspan></text>
<path d="M59.32 372.43 L63.03 372.91 L66.74 373.38 L70.44 373.86 L74.14 374.34 L77.84 374.82 L81.54 375.3 L85.23 375.79 L88.92 376.27 L92.6 376.76 L96.28 377.26 L99.96 377.75 L103.64 378.25 L107.31 378.75 L110.98 379.26 L114.65 379.77 L118.31 380.28 L121.97 380.79 L125.63 381.31 L129.29 381.84 L132.94 382.37 L136.59 382.9 L140.24 383.44 L143.89 383.98 L147.53 384.53 L151.17 385.08 L154.81 385.64 L158.45 386.2 L162.08 386.77 L165.72 387.34 L169.35 387.92 L172.98 388.5 L176.6 389.1 L180.23 389.69 L183.85 390.3 L187.48 390.91 L191.1 391.52 L194.71 392.15 L198.33 392.78 L201.95 393.42 L205.56 394.06 L209.17 394.72 L212.78 395.38 L216.39 396.04 L220 396.72 L223.61 397.4 L227.22 398.1 L230.82 398.8 L234.43 399.51 L238.03 400.22 L241.63 400.95 L245.23 401.69 L248.84 402.43 L252.44 403.19 L256.04 403.95 L259.63 404.72 L263.23 405.5 L266.83 406.3 L270.43 407.1 L274.03 407.91 L277.62 408.73 L281.22 409.57 L284.81 410.41 L288.41 411.27 L292.01 412.13 L295.6 413.01 L299.2 413.9 L302.79 414.8 L306.39 415.71 L309.99 416.63 L313.58 417.56 L317.18 418.51 L320.77 419.47 L324.36 420.45 L327.95 421.44 L331.53 422.45 L335.11 423.48 L338.69 424.53 L342.25 425.6 L345.81 426.68 L349.37 427.79 L352.91 428.92 L356.45 430.08 L359.97 431.26 L363.49 432.46 L366.99 433.69 L370.48 434.95 L373.96 436.23 L377.42 437.55 L380.87 438.89 L384.31 440.27 L387.72 441.68 L391.13 443.12 L394.51 444.59 L397.88 446.1 L401.22 447.64 L404.55 449.22 L407.86 450.84 L411.14 452.5 L414.41 454.19 L417.65 455.93 L420.87 457.71 L424.06 459.53 L427.23 461.39 L430.37 463.29 L433.49 465.24 L436.58 467.24 L439.64 469.28 L442.67 471.38 L445.67 473.51 L448.64 475.7 L451.57 477.93 L454.46 480.21 L457.32 482.54 L460.13 484.91 L462.9 487.34 L465.62 489.81 L468.29 492.32 L470.92 494.89 L473.49 497.5 L476.01 500.17 L478.47 502.88 L480.87 505.63 L483.22 508.44 L485.5 511.29 L487.72 514.2 L489.87 517.15 L491.96 520.15 L493.97 523.2 L495.91 526.3 L497.78 529.44 L499.57 532.64 L501.28 535.88 L502.92 539.17 L504.47 542.5 L505.95 545.88 L507.35 549.3 L508.66 552.76 L509.89 556.25 L511.04 559.79 L512.1 563.37 L513.08 566.98 L513.97 570.63 L514.77 574.31 L515.48 578.02 L516.1 581.77 L516.64 585.54 L517.08 589.35 L517.43 593.18 L517.68 597.04 L59.5 596.15 Z" fill="#FBE0D7"/>
<path d="M59.56 488.51 L62.5 489.43 L65.45 490.37 L68.39 491.31 L71.33 492.26 L74.27 493.21 L77.21 494.18 L80.14 495.15 L83.07 496.12 L86 497.11 L88.93 498.1 L91.85 499.1 L94.77 500.11 L97.69 501.13 L100.61 502.16 L103.52 503.19 L106.43 504.23 L109.34 505.28 L112.24 506.34 L115.14 507.41 L118.04 508.49 L120.93 509.58 L123.83 510.67 L126.71 511.78 L129.6 512.89 L132.48 514.01 L135.36 515.15 L138.23 516.29 L141.1 517.44 L143.97 518.61 L146.83 519.78 L149.69 520.96 L152.55 522.15 L155.4 523.36 L158.25 524.57 L161.09 525.8 L163.93 527.03 L166.77 528.28 L169.6 529.53 L172.43 530.8 L175.25 532.08 L178.07 533.37 L180.88 534.68 L183.69 535.99 L186.49 537.32 L189.28 538.66 L192.07 540.02 L194.84 541.39 L197.61 542.78 L200.38 544.18 L203.13 545.6 L205.87 547.03 L208.6 548.48 L211.33 549.95 L214.04 551.44 L216.74 552.95 L219.42 554.47 L222.1 556.01 L224.76 557.58 L227.41 559.16 L230.04 560.77 L232.66 562.39 L235.27 564.04 L237.86 565.71 L240.43 567.41 L242.99 569.12 L245.53 570.86 L248.05 572.63 L250.56 574.42 L253.05 576.23 L255.52 578.07 L257.97 579.94 L260.4 581.83 L262.81 583.75 L265.2 585.7 L267.57 587.67 L269.92 589.68 L272.24 591.71 L274.54 593.78 L276.82 595.87 L59.5 596.15 Z" fill="#E3CBCF"/>
<g clip-path="url(#clipc)">
<clipPath id="clipc"><rect x="59.5" y="368.9" width="614.2" height="227.25"/></clipPath>
<path d="M59.5 372.4 L68.66 373.35 L77.82 374.35 L86.98 375.4 L96.14 376.49 L105.31 377.63 L114.47 378.8 L123.63 380.01 L132.79 381.24 L141.95 382.51 L151.11 383.8 L160.27 385.12 L169.43 386.46 L178.59 387.82 L187.75 389.2 L196.92 390.6 L206.08 392.02 L215.24 393.45 L224.4 394.91 L233.56 396.37 L242.72 397.86 L251.88 399.36 L261.04 400.88 L270.2 402.43 L279.36 403.99 L288.53 405.57 L297.69 407.18 L306.85 408.81 L316.01 410.48 L325.17 412.17 L334.33 413.9 L343.49 415.66 L352.65 417.46 L361.81 419.31 L370.97 421.21 L380.14 423.15 L389.3 425.15 L398.46 427.22 L407.62 429.34 L416.78 431.54 L425.94 433.81 L435.1 436.17 L444.26 438.61 L453.42 441.14 L462.58 443.77 L471.75 446.51 L480.91 449.37 L490.07 452.34 L499.23 455.44 L508.39 458.68 L517.55 462.06 L526.71 465.59 L535.87 469.28 L545.03 473.14 L554.19 477.18 L563.36 481.4 L572.52 485.82 L581.68 490.44 L590.84 495.29 L600 500.35 L617.3 514.4 L635.4 530.4 L653 552.9 L671.5 593.6" fill="none" stroke="#8FB032" stroke-width="1.8"/>
<path d="M59.5 373.1 L68.66 374.05 L77.82 375.05 L86.98 376.1 L96.14 377.19 L105.31 378.33 L114.47 379.5 L123.63 380.71 L132.79 381.94 L141.95 383.21 L151.11 384.5 L160.27 385.82 L169.43 387.16 L178.59 388.52 L187.75 389.9 L196.92 391.3 L206.08 392.72 L215.24 394.15 L224.4 395.61 L233.56 397.07 L242.72 398.56 L251.88 400.06 L261.04 401.58 L270.2 403.13 L279.36 404.69 L288.53 406.27 L297.69 407.88 L306.85 409.51 L316.01 411.18 L325.17 412.87 L334.33 414.6 L343.49 416.36 L352.65 418.16 L361.81 420.01 L370.97 421.91 L380.14 423.85 L389.3 425.85 L398.46 427.92 L407.62 430.04 L416.78 432.24 L425.94 434.51 L435.1 436.87 L444.26 439.31 L453.42 441.84 L462.58 444.47 L471.75 447.21 L480.91 450.07 L490.07 453.04 L499.23 456.14 L508.39 459.6 L517.55 463.21 L526.71 466.98 L535.87 470.91 L545.03 475.01 L554.19 479.29 L563.36 483.75 L572.52 488.4 L581.68 493.27 L590.84 498.35 L600 503.65 L617.3 517.2 L634.9 533.7 L652.3 559.5 L666.6 595.6" fill="none" stroke="#E19C24" stroke-width="1.8"/>
<path d="M59.5 372.4 L68.4 374.08 L77.3 375.64 L86.21 377.12 L95.11 378.52 L104.01 379.87 L112.91 381.18 L121.81 382.47 L130.71 383.74 L139.62 385.01 L148.52 386.3 L157.42 387.6 L166.32 388.93 L175.22 390.29 L184.12 391.69 L193.03 393.13 L201.93 394.61 L210.83 396.14 L219.73 397.73 L228.63 399.37 L237.53 401.06 L246.44 402.8 L255.34 404.6 L264.24 406.45 L273.14 408.35 L282.04 410.31 L290.94 412.32 L299.85 414.38 L308.75 416.5 L317.65 418.66 L326.55 420.88 L335.45 423.16 L344.35 425.49 L353.26 427.87 L362.16 430.31 L371.06 432.82 L379.96 435.39 L388.86 438.03 L397.76 440.75 L406.67 443.55 L415.57 446.44 L424.47 449.43 L433.37 452.53 L442.27 455.76 L451.17 459.12 L460.08 462.63 L468.98 466.3 L477.88 470.17 L486.78 474.24 L495.68 478.53 L504.58 483.08 L513.49 487.9 L522.39 493.03 L531.29 498.5 L540.19 504.33 L549.09 510.56 L557.99 517.23 L566.9 524.39 L575.8 532.06 L584.7 540.31 L601.2 557.9 L618.3 580.5 L627 596.15" fill="none" stroke="#5E81B5" stroke-width="1.8"/>
<path d="M59.32 372.43 L63.03 372.91 L66.74 373.38 L70.44 373.86 L74.14 374.34 L77.84 374.82 L81.54 375.3 L85.23 375.79 L88.92 376.27 L92.6 376.76 L96.28 377.26 L99.96 377.75 L103.64 378.25 L107.31 378.75 L110.98 379.26 L114.65 379.77 L118.31 380.28 L121.97 380.79 L125.63 381.31 L129.29 381.84 L132.94 382.37 L136.59 382.9 L140.24 383.44 L143.89 383.98 L147.53 384.53 L151.17 385.08 L154.81 385.64 L158.45 386.2 L162.08 386.77 L165.72 387.34 L169.35 387.92 L172.98 388.5 L176.6 389.1 L180.23 389.69 L183.85 390.3 L187.48 390.91 L191.1 391.52 L194.71 392.15 L198.33 392.78 L201.95 393.42 L205.56 394.06 L209.17 394.72 L212.78 395.38 L216.39 396.04 L220 396.72 L223.61 397.4 L227.22 398.1 L230.82 398.8 L234.43 399.51 L238.03 400.22 L241.63 400.95 L245.23 401.69 L248.84 402.43 L252.44 403.19 L256.04 403.95 L259.63 404.72 L263.23 405.5 L266.83 406.3 L270.43 407.1 L274.03 407.91 L277.62 408.73 L281.22 409.57 L284.81 410.41 L288.41 411.27 L292.01 412.13 L295.6 413.01 L299.2 413.9 L302.79 414.8 L306.39 415.71 L309.99 416.63 L313.58 417.56 L317.18 418.51 L320.77 419.47 L324.36 420.45 L327.95 421.44 L331.53 422.45 L335.11 423.48 L338.69 424.53 L342.25 425.6 L345.81 426.68 L349.37 427.79 L352.91 428.92 L356.45 430.08 L359.97 431.26 L363.49 432.46 L366.99 433.69 L370.48 434.95 L373.96 436.23 L377.42 437.55 L380.87 438.89 L384.31 440.27 L387.72 441.68 L391.13 443.12 L394.51 444.59 L397.88 446.1 L401.22 447.64 L404.55 449.22 L407.86 450.84 L411.14 452.5 L414.41 454.19 L417.65 455.93 L420.87 457.71 L424.06 459.53 L427.23 461.39 L430.37 463.29 L433.49 465.24 L436.58 467.24 L439.64 469.28 L442.67 471.38 L445.67 473.51 L448.64 475.7 L451.57 477.93 L454.46 480.21 L457.32 482.54 L460.13 484.91 L462.9 487.34 L465.62 489.81 L468.29 492.32 L470.92 494.89 L473.49 497.5 L476.01 500.17 L478.47 502.88 L480.87 505.63 L483.22 508.44 L485.5 511.29 L487.72 514.2 L489.87 517.15 L491.96 520.15 L493.97 523.2 L495.91 526.3 L497.78 529.44 L499.57 532.64 L501.28 535.88 L502.92 539.17 L504.47 542.5 L505.95 545.88 L507.35 549.3 L508.66 552.76 L509.89 556.25 L511.04 559.79 L512.1 563.37 L513.08 566.98 L513.97 570.63 L514.77 574.31 L515.48 578.02 L516.1 581.77 L516.64 585.54 L517.08 589.35 L517.43 593.18 L517.68 597.04" fill="none" stroke="#EB6235" stroke-width="1.8" stroke-dasharray="3.8 3.5"/>
<path d="M59.56 488.51 L62.5 489.43 L65.45 490.37 L68.39 491.31 L71.33 492.26 L74.27 493.21 L77.21 494.18 L80.14 495.15 L83.07 496.12 L86 497.11 L88.93 498.1 L91.85 499.1 L94.77 500.11 L97.69 501.13 L100.61 502.16 L103.52 503.19 L106.43 504.23 L109.34 505.28 L112.24 506.34 L115.14 507.41 L118.04 508.49 L120.93 509.58 L123.83 510.67 L126.71 511.78 L129.6 512.89 L132.48 514.01 L135.36 515.15 L138.23 516.29 L141.1 517.44 L143.97 518.61 L146.83 519.78 L149.69 520.96 L152.55 522.15 L155.4 523.36 L158.25 524.57 L161.09 525.8 L163.93 527.03 L166.77 528.28 L169.6 529.53 L172.43 530.8 L175.25 532.08 L178.07 533.37 L180.88 534.68 L183.69 535.99 L186.49 537.32 L189.28 538.66 L192.07 540.02 L194.84 541.39 L197.61 542.78 L200.38 544.18 L203.13 545.6 L205.87 547.03 L208.6 548.48 L211.33 549.95 L214.04 551.44 L216.74 552.95 L219.42 554.47 L222.1 556.01 L224.76 557.58 L227.41 559.16 L230.04 560.77 L232.66 562.39 L235.27 564.04 L237.86 565.71 L240.43 567.41 L242.99 569.12 L245.53 570.86 L248.05 572.63 L250.56 574.42 L253.05 576.23 L255.52 578.07 L257.97 579.94 L260.4 581.83 L262.81 583.75 L265.2 585.7 L267.57 587.67 L269.92 589.68 L272.24 591.71 L274.54 593.78 L276.82 595.87" fill="none" stroke="#8778B3" stroke-width="1.8" stroke-dasharray="3.8 3.5"/>
</g>
<line x1="555.8" y1="387.5" x2="591.8" y2="387.5" stroke="#8FB032" stroke-width="1.8"/>
<text transform="translate(599.3 392.3) scale(1 1.04)" font-size="12.6" text-anchor="start" fill="#1a1a1a">TPE QDS</text>
<line x1="555.8" y1="413.7" x2="591.8" y2="413.7" stroke="#E19C24" stroke-width="1.8"/>
<text transform="translate(599.3 418.5) scale(1 1.04)" font-size="12.6" text-anchor="start" fill="#1a1a1a">LA QDS</text>
<line x1="555.8" y1="439.9" x2="591.8" y2="439.9" stroke="#5E81B5" stroke-width="1.8"/>
<text transform="translate(599.3 444.7) scale(1 1.04)" font-size="12.6" text-anchor="start" fill="#1a1a1a">RE QDS</text>
<line x1="555.8" y1="465.9" x2="589.6" y2="465.9" stroke="#EB6235" stroke-width="1.8" stroke-dasharray="3.7 3.8"/>
<text transform="translate(599.3 470.7) scale(1 1.04)" font-size="12.6" text-anchor="start" fill="#1a1a1a">RP PDS</text>
<line x1="555.8" y1="491.8" x2="589.6" y2="491.8" stroke="#8778B3" stroke-width="1.8" stroke-dasharray="3.7 3.8"/>
<text transform="translate(599.3 496.6) scale(1 1.04)" font-size="12.6" text-anchor="start" fill="#1a1a1a">FP PDS</text>
<text x="658.2" y="590.5" font-size="14.5" text-anchor="middle" fill="#1a1a1a">c)</text>
<line x1="72.85" y1="596.15" x2="72.85" y2="593.95" stroke="#000" stroke-width="1.1"/>
<line x1="95.11" y1="596.15" x2="95.11" y2="593.95" stroke="#000" stroke-width="1.1"/>
<line x1="117.36" y1="596.15" x2="117.36" y2="593.95" stroke="#000" stroke-width="1.1"/>
<line x1="139.61" y1="596.15" x2="139.61" y2="592.65" stroke="#000" stroke-width="1.1"/>
<line x1="161.87" y1="596.15" x2="161.87" y2="593.95" stroke="#000" stroke-width="1.1"/>
<line x1="184.12" y1="596.15" x2="184.12" y2="593.95" stroke="#000" stroke-width="1.1"/>
<line x1="206.37" y1="596.15" x2="206.37" y2="593.95" stroke="#000" stroke-width="1.1"/>
<line x1="228.63" y1="596.15" x2="228.63" y2="592.65" stroke="#000" stroke-width="1.1"/>
<line x1="250.88" y1="596.15" x2="250.88" y2="593.95" stroke="#000" stroke-width="1.1"/>
<line x1="273.13" y1="596.15" x2="273.13" y2="593.95" stroke="#000" stroke-width="1.1"/>
<line x1="295.39" y1="596.15" x2="295.39" y2="593.95" stroke="#000" stroke-width="1.1"/>
<line x1="317.64" y1="596.15" x2="317.64" y2="592.65" stroke="#000" stroke-width="1.1"/>
<line x1="339.9" y1="596.15" x2="339.9" y2="593.95" stroke="#000" stroke-width="1.1"/>
<line x1="362.15" y1="596.15" x2="362.15" y2="593.95" stroke="#000" stroke-width="1.1"/>
<line x1="384.4" y1="596.15" x2="384.4" y2="593.95" stroke="#000" stroke-width="1.1"/>
<line x1="406.66" y1="596.15" x2="406.66" y2="592.65" stroke="#000" stroke-width="1.1"/>
<line x1="428.91" y1="596.15" x2="428.91" y2="593.95" stroke="#000" stroke-width="1.1"/>
<line x1="451.16" y1="596.15" x2="451.16" y2="593.95" stroke="#000" stroke-width="1.1"/>
<line x1="473.42" y1="596.15" x2="473.42" y2="593.95" stroke="#000" stroke-width="1.1"/>
<line x1="495.67" y1="596.15" x2="495.67" y2="592.65" stroke="#000" stroke-width="1.1"/>
<line x1="517.92" y1="596.15" x2="517.92" y2="593.95" stroke="#000" stroke-width="1.1"/>
<line x1="540.18" y1="596.15" x2="540.18" y2="593.95" stroke="#000" stroke-width="1.1"/>
<line x1="562.43" y1="596.15" x2="562.43" y2="593.95" stroke="#000" stroke-width="1.1"/>
<line x1="584.69" y1="596.15" x2="584.69" y2="592.65" stroke="#000" stroke-width="1.1"/>
<line x1="606.94" y1="596.15" x2="606.94" y2="593.95" stroke="#000" stroke-width="1.1"/>
<line x1="629.19" y1="596.15" x2="629.19" y2="593.95" stroke="#000" stroke-width="1.1"/>
<line x1="651.45" y1="596.15" x2="651.45" y2="593.95" stroke="#000" stroke-width="1.1"/>
<line x1="673.7" y1="596.15" x2="673.7" y2="592.65" stroke="#000" stroke-width="1.1"/>
<line x1="72" y1="368.9" x2="72" y2="371.2" stroke="#000" stroke-width="1.1"/>
<line x1="93.2" y1="368.9" x2="93.2" y2="371.2" stroke="#000" stroke-width="1.1"/>
<line x1="114.4" y1="368.9" x2="114.4" y2="371.2" stroke="#000" stroke-width="1.1"/>
<line x1="135.6" y1="368.9" x2="135.6" y2="371.2" stroke="#000" stroke-width="1.1"/>
<line x1="156.8" y1="368.9" x2="156.8" y2="372.4" stroke="#000" stroke-width="1.1"/>
<line x1="178" y1="368.9" x2="178" y2="371.2" stroke="#000" stroke-width="1.1"/>
<line x1="199.2" y1="368.9" x2="199.2" y2="371.2" stroke="#000" stroke-width="1.1"/>
<line x1="220.4" y1="368.9" x2="220.4" y2="371.2" stroke="#000" stroke-width="1.1"/>
<line x1="241.6" y1="368.9" x2="241.6" y2="371.2" stroke="#000" stroke-width="1.1"/>
<line x1="262.8" y1="368.9" x2="262.8" y2="372.4" stroke="#000" stroke-width="1.1"/>
<line x1="284" y1="368.9" x2="284" y2="371.2" stroke="#000" stroke-width="1.1"/>
<line x1="305.2" y1="368.9" x2="305.2" y2="371.2" stroke="#000" stroke-width="1.1"/>
<line x1="326.4" y1="368.9" x2="326.4" y2="371.2" stroke="#000" stroke-width="1.1"/>
<line x1="347.6" y1="368.9" x2="347.6" y2="371.2" stroke="#000" stroke-width="1.1"/>
<line x1="368.8" y1="368.9" x2="368.8" y2="372.4" stroke="#000" stroke-width="1.1"/>
<line x1="390" y1="368.9" x2="390" y2="371.2" stroke="#000" stroke-width="1.1"/>
<line x1="411.2" y1="368.9" x2="411.2" y2="371.2" stroke="#000" stroke-width="1.1"/>
<line x1="432.4" y1="368.9" x2="432.4" y2="371.2" stroke="#000" stroke-width="1.1"/>
<line x1="453.6" y1="368.9" x2="453.6" y2="371.2" stroke="#000" stroke-width="1.1"/>
<line x1="474.8" y1="368.9" x2="474.8" y2="372.4" stroke="#000" stroke-width="1.1"/>
<line x1="496" y1="368.9" x2="496" y2="371.2" stroke="#000" stroke-width="1.1"/>
<line x1="517.2" y1="368.9" x2="517.2" y2="371.2" stroke="#000" stroke-width="1.1"/>
<line x1="538.4" y1="368.9" x2="538.4" y2="371.2" stroke="#000" stroke-width="1.1"/>
<line x1="559.6" y1="368.9" x2="559.6" y2="371.2" stroke="#000" stroke-width="1.1"/>
<line x1="580.8" y1="368.9" x2="580.8" y2="372.4" stroke="#000" stroke-width="1.1"/>
<line x1="602" y1="368.9" x2="602" y2="371.2" stroke="#000" stroke-width="1.1"/>
<line x1="623.2" y1="368.9" x2="623.2" y2="371.2" stroke="#000" stroke-width="1.1"/>
<line x1="644.4" y1="368.9" x2="644.4" y2="371.2" stroke="#000" stroke-width="1.1"/>
<line x1="665.6" y1="368.9" x2="665.6" y2="371.2" stroke="#000" stroke-width="1.1"/>
<line x1="59.5" y1="596.13" x2="65.5" y2="596.13" stroke="#000" stroke-width="1.1"/>
<line x1="59.5" y1="585.84" x2="62.8" y2="585.84" stroke="#000" stroke-width="1.1"/>
<line x1="59.5" y1="577.14" x2="62.8" y2="577.14" stroke="#000" stroke-width="1.1"/>
<line x1="59.5" y1="569.6" x2="62.8" y2="569.6" stroke="#000" stroke-width="1.1"/>
<line x1="59.5" y1="562.95" x2="62.8" y2="562.95" stroke="#000" stroke-width="1.1"/>
<line x1="59.5" y1="557" x2="65.5" y2="557" stroke="#000" stroke-width="1.1"/>
<line x1="59.5" y1="517.87" x2="62.8" y2="517.87" stroke="#000" stroke-width="1.1"/>
<line x1="59.5" y1="494.97" x2="62.8" y2="494.97" stroke="#000" stroke-width="1.1"/>
<line x1="59.5" y1="478.73" x2="62.8" y2="478.73" stroke="#000" stroke-width="1.1"/>
<line x1="59.5" y1="466.13" x2="65.5" y2="466.13" stroke="#000" stroke-width="1.1"/>
<line x1="59.5" y1="455.84" x2="62.8" y2="455.84" stroke="#000" stroke-width="1.1"/>
<line x1="59.5" y1="447.14" x2="62.8" y2="447.14" stroke="#000" stroke-width="1.1"/>
<line x1="59.5" y1="439.6" x2="62.8" y2="439.6" stroke="#000" stroke-width="1.1"/>
<line x1="59.5" y1="432.95" x2="62.8" y2="432.95" stroke="#000" stroke-width="1.1"/>
<line x1="59.5" y1="427" x2="65.5" y2="427" stroke="#000" stroke-width="1.1"/>
<line x1="59.5" y1="387.87" x2="62.8" y2="387.87" stroke="#000" stroke-width="1.1"/>
<rect x="59.5" y="368.9" width="614.2" height="227.25" fill="none" stroke="#1a1a1a" stroke-width="1.3"/>
<text x="135.5" y="612.9" font-size="14.8" text-anchor="start" fill="#1a1a1a">2</text>
<text x="224.51" y="612.9" font-size="14.8" text-anchor="start" fill="#1a1a1a">4</text>
<text x="313.53" y="612.9" font-size="14.8" text-anchor="start" fill="#1a1a1a">6</text>
<text x="402.54" y="612.9" font-size="14.8" text-anchor="start" fill="#1a1a1a">8</text>
<text x="487.44" y="612.9" font-size="14.8" text-anchor="start" fill="#1a1a1a"> 0</text>
<path transform="translate(487.44 612.9) scale(0.007227 -0.007227)" d="M763 0 L583 0 L583 1147 Q518 1085 412 1023 Q307 961 223 930 L223 1104 Q374 1175 487 1276 Q600 1377 647 1472 L763 1472 Z" fill="#1a1a1a"/>
<text x="576.45" y="612.9" font-size="14.8" text-anchor="start" fill="#1a1a1a"> 2</text>
<path transform="translate(576.45 612.9) scale(0.007227 -0.007227)" d="M763 0 L583 0 L583 1147 Q518 1085 412 1023 Q307 961 223 930 L223 1104 Q374 1175 487 1276 Q600 1377 647 1472 L763 1472 Z" fill="#1a1a1a"/>
<text x="665.47" y="612.9" font-size="14.8" text-anchor="start" fill="#1a1a1a"> 4</text>
<path transform="translate(665.47 612.9) scale(0.007227 -0.007227)" d="M763 0 L583 0 L583 1147 Q518 1085 412 1023 Q307 961 223 930 L223 1104 Q374 1175 487 1276 Q600 1377 647 1472 L763 1472 Z" fill="#1a1a1a"/>
<text x="146.51" y="363.1" font-size="14.8" text-anchor="start" fill="#1a1a1a">0.5</text>
<text x="256.63" y="363.1" font-size="14.8" text-anchor="start" fill="#1a1a1a"> .</text>
<path transform="translate(256.63 363.1) scale(0.007227 -0.007227)" d="M763 0 L583 0 L583 1147 Q518 1085 412 1023 Q307 961 223 930 L223 1104 Q374 1175 487 1276 Q600 1377 647 1472 L763 1472 Z" fill="#1a1a1a"/>
<text x="358.51" y="363.1" font-size="14.8" text-anchor="start" fill="#1a1a1a"> .5</text>
<path transform="translate(358.51 363.1) scale(0.007227 -0.007227)" d="M763 0 L583 0 L583 1147 Q518 1085 412 1023 Q307 961 223 930 L223 1104 Q374 1175 487 1276 Q600 1377 647 1472 L763 1472 Z" fill="#1a1a1a"/>
<text x="468.63" y="363.1" font-size="14.8" text-anchor="start" fill="#1a1a1a">2.</text>
<text x="570.51" y="363.1" font-size="14.8" text-anchor="start" fill="#1a1a1a">2.5</text>
<text x="27.79" y="601.63" font-size="14.8" text-anchor="start" fill="#1a1a1a">0.05</text>
<text x="27.79" y="562.5" font-size="14.8" text-anchor="start" fill="#1a1a1a">0. 0</text>
<path transform="translate(40.14 562.5) scale(0.007227 -0.007227)" d="M763 0 L583 0 L583 1147 Q518 1085 412 1023 Q307 961 223 930 L223 1104 Q374 1175 487 1276 Q600 1377 647 1472 L763 1472 Z" fill="#1a1a1a"/>
<text x="27.79" y="471.63" font-size="14.8" text-anchor="start" fill="#1a1a1a">0.50</text>
<path transform="translate(48.37 432.5) scale(0.007227 -0.007227)" d="M763 0 L583 0 L583 1147 Q518 1085 412 1023 Q307 961 223 930 L223 1104 Q374 1175 487 1276 Q600 1377 647 1472 L763 1472 Z" fill="#1a1a1a"/>
<text x="366.9" y="635" font-size="14.6" text-anchor="middle" fill="#1a1a1a">Distance(km)</text>
<text x="366.6" y="340.3" font-size="14.9" text-anchor="middle" fill="#1a1a1a">Losses (dB)</text>
<text transform="translate(11.5 480.7) rotate(-90)" font-size="15.1" text-anchor="middle" fill="#1a1a1a">Noise tolerance <tspan font-family="Liberation Serif, serif" font-size="13.8">(</tspan><tspan font-family="Liberation Serif, serif" font-style="italic" font-size="14.8" dx="0.9">%</tspan><tspan font-family="Liberation Serif, serif" font-size="13.8" dx="0.7">)</tspan></text>
</svg>
</body></html>
